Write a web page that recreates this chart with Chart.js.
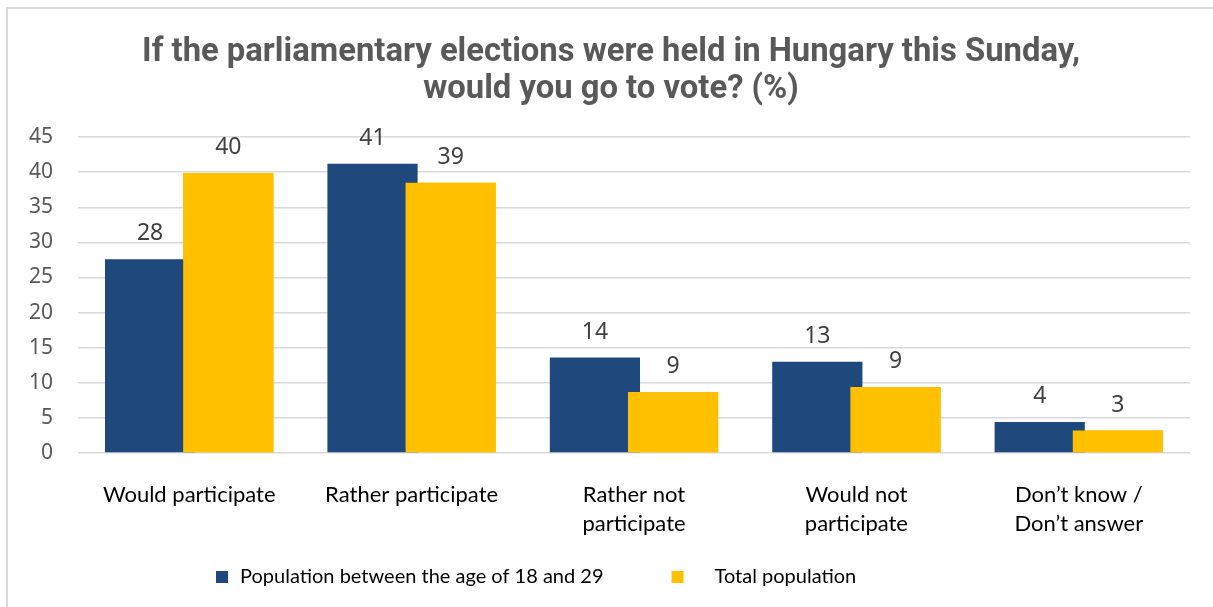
<!DOCTYPE html>
<html>
<head>
<meta charset="utf-8">
<script src="https://cdn.jsdelivr.net/npm/chart.js@4/dist/chart.umd.min.js"></script>
<style>
  html, body { margin: 0; padding: 0; background: #ffffff; }
  #wrap { position: relative; width: 1213px; height: 607px; overflow: hidden; }
  #frame { position: absolute; left: 6px; top: 7px; width: 1300px; height: 700px;
           border-left: 2px solid #d9d9d9; border-top: 2px solid #d9d9d9; }
  canvas { position: absolute; left: 0; top: 0; }
</style>
</head>
<body>
<div id="wrap">
  <div id="frame"></div>
  <canvas id="c" width="1213" height="607"></canvas>
</div>
<script>
const titleLines = ["If the parliamentary elections were held in Hungary this Sunday,", "would you go to vote? (%)"];
const categories = [["Would participate"], ["Rather participate"], ["Rather not", "participate"], ["Would not", "participate"], ["Don\u2019t know /", "Don\u2019t answer"]];
const seriesNames = ["Population between the age of 18 and 29", "Total population"];
const youngValues = [27.6, 41.2, 13.6, 13.0, 4.4];
const totalValues = [39.9, 38.5, 8.7, 9.4, 3.2];
const yTicks = [0, 5, 10, 15, 20, 25, 30, 35, 40, 45];

const labelPlugin = {
  id: 'barLabels',
  afterDatasetsDraw(chart) {
    const ctx = chart.ctx;
    // right-hand (yellow) bars overlap the blue ones, as in the original
    chart.getDatasetMeta(1).controller.draw();
    ctx.save();
    ctx.font = '23px "Noto Sans", sans-serif';
    ctx.fillStyle = '#404040';
    ctx.textAlign = 'center';
    ctx.textBaseline = 'alphabetic';
    chart.data.datasets.forEach((ds, di) => {
      const meta = chart.getDatasetMeta(di);
      meta.data.forEach((bar, i) => {
        ctx.fillText(String(Math.round(ds.data[i])), bar.x, bar.y - 19);
      });
    });
    ctx.restore();
  }
};

// legend laid out like the original (box, text, wide gap between the two entries)
const legendPlugin = {
  id: 'customLegend',
  afterDraw(chart) {
    const ctx = chart.ctx;
    ctx.save();
    ctx.font = '20px Lato, sans-serif';
    ctx.textBaseline = 'middle';
    ctx.textAlign = 'left';
    const y = 577;
    let x = 216;
    const textGap = [24, 43];
    chart.data.datasets.forEach((ds, i) => {
      ctx.fillStyle = ds.backgroundColor;
      ctx.fillRect(x, y - 6, 12, 12);
      ctx.fillStyle = '#000000';
      const tx = x + textGap[i];
      ctx.fillText(ds.label, tx, y);
      x = tx + ctx.measureText(ds.label).width + 68;
    });
    ctx.restore();
  }
};

const titleShift = {
  id: 'titleShift',
  afterLayout(chart) {
    const tb = chart.titleBlock;
    tb.left += 16; tb.right += 16;
  }
};

new Chart(document.getElementById('c'), {
  type: 'bar',
  data: {
    labels: categories,
    datasets: [
      { label: seriesNames[0], data: youngValues, backgroundColor: '#1f497d', borderWidth: 0 },
      { label: seriesNames[1], data: totalValues, backgroundColor: '#ffc000', borderWidth: 0 }
    ]
  },
  options: {
    responsive: false,
    animation: false,
    events: [],
    layout: { padding: { left: 0, right: 23, top: 0, bottom: 59 } },
    datasets: { bar: { categoryPercentage: 0.703, barPercentage: 1.154 } },
    plugins: {
      title: {
        display: true,
        text: titleLines,
        color: '#595959',
        font: { family: '"Roboto", sans-serif', size: 32.8, weight: 'bold', lineHeight: 1.13 },
        padding: { top: 34, bottom: 29 }
      },
      legend: { display: false },
      tooltip: { enabled: false }
    },
    scales: {
      x: {
        grid: { display: false },
        border: { display: false },
        afterFit: s => { s.height = 95; },
        ticks: {
          color: '#000000',
          padding: 20,
          maxRotation: 0,
          autoSkip: false,
          font: { family: 'Lato, sans-serif', size: 22, lineHeight: 1.3 }
        }
      },
      y: {
        min: 0, max: 45,
        afterBuildTicks: s => { s.ticks = yTicks.map(v => ({ value: v })); },
        afterFit: s => { s.width = 78; },
        grid: { color: '#d9d9d9', lineWidth: 1.5, drawTicks: false },
        border: { display: false },
        ticks: {
          color: '#595959',
          padding: 25,
          font: { family: '"Noto Sans", sans-serif', size: 21 }
        }
      }
    }
  },
  plugins: [labelPlugin, legendPlugin, titleShift]
});
</script>
</body>
</html>
